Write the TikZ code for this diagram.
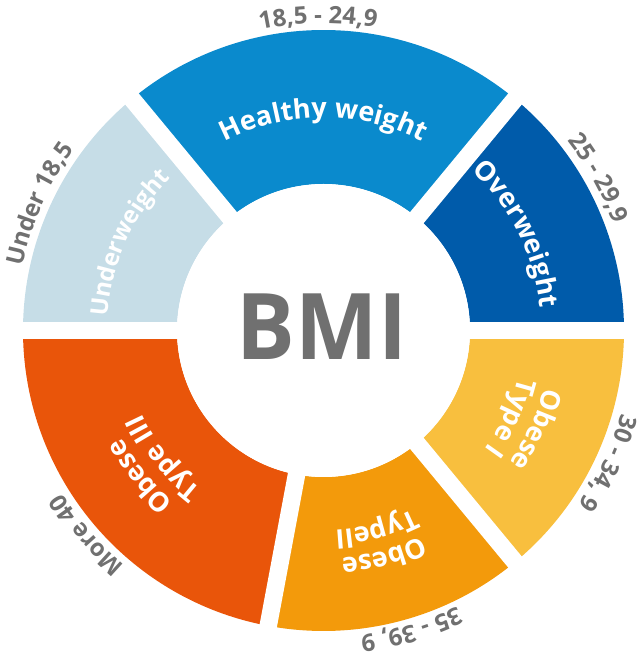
\documentclass[tikz,border=0pt]{standalone}
\usepackage{fontspec}
\setmainfont{Open Sans}
\usetikzlibrary{decorations.text}
\definecolor{cHealthy}{HTML}{0A8ACD}
\definecolor{cOver}{HTML}{005BAA}
\definecolor{cUnder}{HTML}{C6DDE7}
\definecolor{cObOne}{HTML}{F8BF3E}
\definecolor{cObTwo}{HTML}{F39A0B}
\definecolor{cObThree}{HTML}{E9550A}
\definecolor{labgray}{HTML}{707070}
\newcommand\inlab{\fontsize{27}{27}\selectfont\bfseries\color{white}}
\newcommand\inlabsmall{\fontsize{24}{24}\selectfont\bfseries\color{white}}
\newcommand\outlab{\fontsize{24}{24}\selectfont\bfseries\color{labgray}}
\newcommand\Ro{300.5}
\newcommand\Ri{146.5}
\newcommand\donutseg[3]{%
  \fill[#3] ([shift={(#1:\Ro)}]C) arc[start angle=#1,end angle=#2,radius=\Ro]
    -- ([shift={(#2:\Ri)}]C) arc[start angle=#2,end angle=#1,radius=\Ri] -- cycle;}
\newcommand\arclabel[4]{%
  \pgfmathsetmacro\alA{#1+70}\pgfmathsetmacro\alB{#1-70}%
  \path[decorate,decoration={text along path,text align=center,text={|#3|#4}}]
    ([shift={(\alA:#2)}]C) arc[start angle=\alA,end angle=\alB,radius=#2];}
\begin{document}
\begin{tikzpicture}[x=1pt,y=1pt,gapline/.style={white,line width=17.5pt}]
\useasboundingbox (0,0) rectangle (642,658);
\coordinate (C) at (323.5,327.5);
% segments
\donutseg{0}{50.4}{cOver}
\donutseg{50.4}{129.6}{cHealthy}
\donutseg{129.6}{180}{cUnder}
\donutseg{180}{259.4}{cObThree}
\donutseg{259.4}{309.6}{cObTwo}
\donutseg{309.6}{360}{cObOne}
% gaps
\foreach \a [count=\i] in {0,50.4,129.6,180,259.4,309.6}{
  \coordinate (g\i) at ([shift={(\a:306)}]C);
  \draw[gapline] (C) -- (g\i);
}
\fill[white] (C) circle[radius=\Ri];
% centre text
\node[anchor=base,text=labgray,font=\fontsize{92}{92}\selectfont\bfseries,inner sep=0pt] (bmi) at (322,298) {\scalebox{0.95}[1]{BMI}};
% inner labels
\arclabel{90}{213}{\inlab}{Healthy weight}
\arclabel{26.5}{218}{\inlab}{Overweight}
\arclabel{155.7}{216}{\inlabsmall}{Underweight}
\arclabel{335}{228}{\inlab}{Obese}
\arclabel{335}{200}{\inlab}{Type I}
\arclabel{285}{228}{\inlab}{Obese}
\arclabel{285}{200}{\inlab}{TypeII}
\arclabel{218.5}{228}{\inlab}{Obese}
\arclabel{218.5}{200}{\inlab}{Type III}
% outer labels
\arclabel{91}{307}{\outlab}{18,5 - 24,9}
\arclabel{156}{308}{\outlab}{Under 18,5}
\arclabel{29}{309}{\outlab}{25 - 29,9}
\arclabel{-25}{309}{\outlab}{30 - 34, 9}
\arclabel{-73.6}{307}{\outlab}{35 - 39, 9}
\arclabel{220.8}{308}{\outlab}{More 40}
\end{tikzpicture}
\end{document}
